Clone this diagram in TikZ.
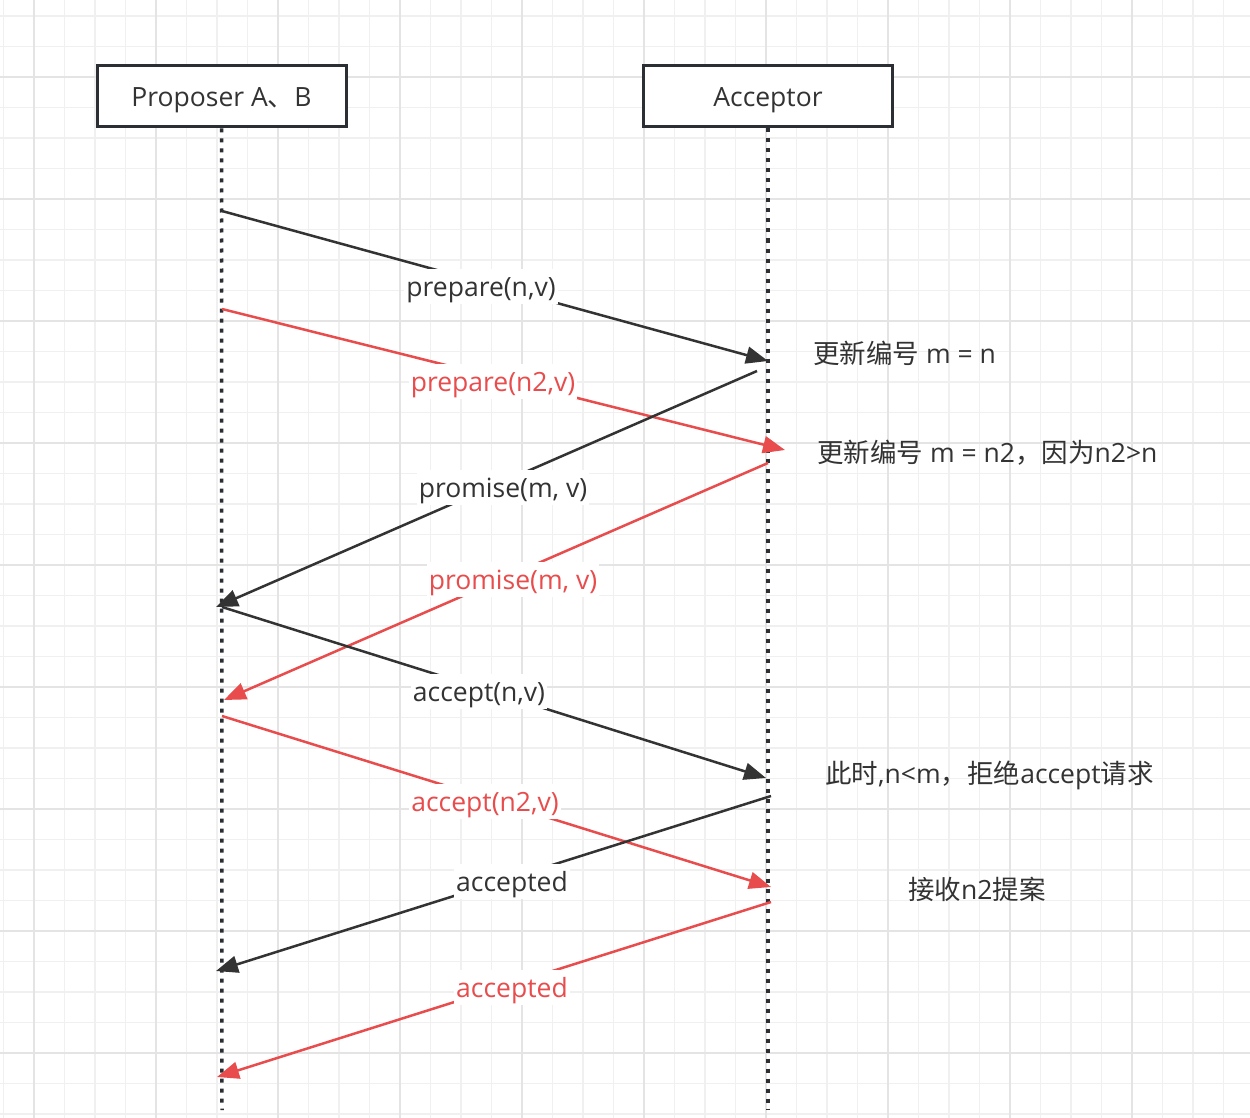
\documentclass[tikz,border=0pt]{standalone}
\usepackage{fontspec}
\setmainfont{Open Sans}
\newfontfamily\cjk{Noto Sans CJK SC}
\usetikzlibrary{arrows.meta}
\definecolor{ink}{HTML}{333333}
\definecolor{boxink}{HTML}{2B2F33}
\definecolor{redink}{HTML}{E84C4C}
\definecolor{gridminor}{HTML}{F0F0F0}
\definecolor{gridmajor}{HTML}{E4E4E4}
\tikzset{
  actorbox/.style={draw=boxink, line width=3pt, fill=white, minimum width=249pt, minimum height=61pt, inner sep=0pt, text=ink, text height=21pt, text depth=0pt},
  lifeline/.style={draw=boxink, line width=3.5pt, dash pattern=on 4pt off 6pt},
  msgblack/.style={draw=ink, line width=2.5pt, -{Triangle[length=22pt,width=17pt]}},
  msgred/.style={draw=redink, line width=2.5pt, -{Triangle[length=22pt,width=17pt]}},
  lbl/.style={fill=white, inner sep=2pt, text height=25pt, text depth=6pt},
  lblblack/.style={lbl, text=ink},
  lblred/.style={lbl, text=redink},
  notetext/.style={anchor=west, inner sep=0pt, text=ink}
}
\begin{document}
\begin{tikzpicture}[x=1pt,y=-1pt,font=\fontsize{26.5pt}{31pt}\selectfont]
\useasboundingbox (0,0) rectangle (1250,1118);
\fill[white] (0,0) rectangle (1250,1118);
% grid
\foreach \i in {0,...,40} {\draw[gridminor, line width=1.5pt] ({3.5+30.5*\i},0) -- ++(0,1118);}
\foreach \j in {0,...,36} {\draw[gridminor, line width=1.5pt] (0,{16+30.5*\j}) -- ++(1250,0);}
\foreach \i in {0,...,9} {\draw[gridmajor, line width=2pt] ({34+122*\i},0) -- ++(0,1118);}
\foreach \j in {0,...,8} {\draw[gridmajor, line width=2pt] (0,{77+122*\j}) -- ++(1250,0);}

% actors
\coordinate (pAend) at (222,1110);
\coordinate (accend) at (768,1110);
\node[actorbox] (pA) at (221.5,96.5) {Proposer A{\cjk 、}B};
\node[actorbox] (acc) at (768,96.5) {Acceptor};
\draw[lifeline] (pA.south) -- (pAend);
\draw[lifeline] (acc.south) -- (accend);

% message end points
\coordinate (a1s) at (222,211);  \coordinate (a1e) at (768,361);
\coordinate (a2s) at (222,309);  \coordinate (a2e) at (785,450);
\coordinate (a3s) at (757,371);  \coordinate (a3e) at (216,607);
\coordinate (a4s) at (768,463);  \coordinate (a4e) at (224,700);
\coordinate (a5s) at (222,607);  \coordinate (a5e) at (766,778);
\coordinate (a6s) at (222,716);  \coordinate (a6e) at (771,887);
\coordinate (a7s) at (771,796);  \coordinate (a7e) at (216,971);
\coordinate (a8s) at (771,902);  \coordinate (a8e) at (217,1077);

\draw[msgblack] (a1s) -- (a1e);
\draw[msgred]   (a2s) -- (a2e);
\draw[msgblack] (a3s) -- (a3e);
\draw[msgred]   (a4s) -- (a4e);
\draw[msgblack] (a5s) -- (a5e);
\draw[msgred]   (a6s) -- (a6e);
\draw[msgblack] (a7s) -- (a7e);
\draw[msgred]   (a8s) -- (a8e);

% labels
\node[lblblack] (l1) at (481,286.5) {prepare(n,v)};
\node[lblred]   (l2) at (493,381.5) {prepare(n2,v)};
\node[lblblack] (l3) at (503,487.5) {promise(m, v)};
\node[lblred]   (l4) at (513,579.5) {promise(m, v)};
\node[lblblack] (l5) at (479,691.5) {accept(n,v)};
\node[lblred]   (l6) at (485,801.5) {accept(n2,v)};
\node[lblblack] (l7) at (512,881.5) {accepted};
\node[lblred]   (l8) at (512,987.5) {accepted};

% notes
\node[notetext] (n1) at (813,353) {{\cjk 更新编号} m = n};
\node[notetext] (n2) at (817,453) {{\cjk 更新编号} m = n2{\cjk ，因为}n2>n};
\node[notetext] (n3) at (825,775) {{\cjk 此时},n<m{\cjk ，拒绝}accept{\cjk 请求}};
\node[notetext] (n4) at (908,889) {{\cjk 接收}n2{\cjk 提案}};
\end{tikzpicture}
\end{document}
